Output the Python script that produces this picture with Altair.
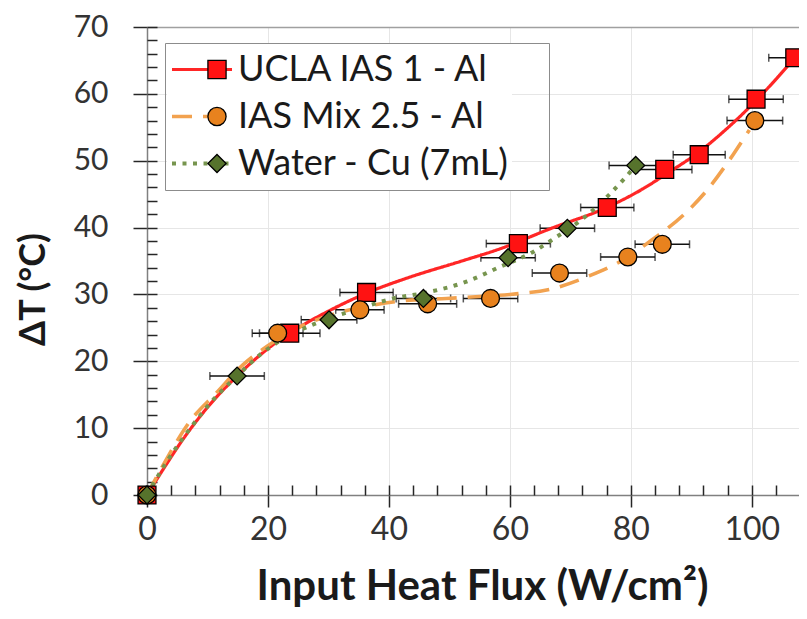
import altair as alt
import pandas as pd

series_names = ["UCLA IAS 1 - Al", "IAS Mix 2.5 - Al", "Water - Cu (7mL)"]
line_keys = ["L1", "L2", "L3"]
point_keys = ["P1", "P2", "P3"]
marker_fill = ["#FF1212", "#E8821E", "#56732C"]
marker_edge = ["#000000", "#000000", "#000000"]
line_colors = ["#FF2626", "#F2A24F", "#77954E"]
line_widths = [3.2, 4.0, 4.5]
dash_patterns = [[1, 0], [20, 11], [4, 6.5]]
marker_shapes = ["square", "circle", "diamond"]

# measured points (x = input heat flux W/cm2, y = delta T degC, err = x error)
ucla_x = [0, 23.6, 36.3, 61.4, 76.1, 85.6, 91.3, 100.7, 107.1]
ucla_y = [0, 24.2, 30.3, 37.6, 43.0, 48.7, 50.9, 59.2, 65.4]
ucla_err = [0, 5.0, 4.4, 5.3, 4.4, 4.5, 4.3, 4.5, 4.3]

mix_x = [0, 21.6, 35.2, 46.4, 56.8, 68.2, 79.5, 85.2, 100.5]
mix_y = [0, 24.2, 27.7, 28.6, 29.4, 33.2, 35.6, 37.5, 56.0]
mix_err = [0, 4.2, 4.0, 4.8, 4.5, 4.5, 4.5, 4.5, 4.6]

water_x = [0, 14.9, 30.1, 45.7, 59.7, 69.5, 80.8]
water_y = [0, 17.8, 26.2, 29.4, 35.5, 39.9, 49.3]
water_err = [0, 4.5, 4.6, 4.5, 4.5, 4.5, 4.4]

# trend curves
ucla_fit_x = [0, 3, 6, 10, 15, 20, 25, 30, 36.3, 43.5, 51.7, 58.3, 66.6, 76.0, 82.0, 86.0, 91.4, 95.5, 100.7, 104.0, 107.1]
ucla_fit_y = [0, 4.3, 8.4, 13.1, 17.9, 21.9, 25.0, 27.5, 30.2, 32.6, 34.9, 36.8, 39.8, 43.0, 45.8, 48.1, 51.4, 54.5, 59.0, 62.2, 65.4]

mix_fit_x = [0, 3, 7, 11.5, 15.9, 19.8, 25, 31.4, 37.4, 41.8, 49.5, 55, 60, 67.2, 73.2, 78.4, 83.7, 88.6, 92.5, 96.9, 99.6]
mix_fit_y = [0, 5.0, 10.9, 15.3, 19.5, 22.2, 25.0, 27.2, 28.4, 29.0, 29.4, 29.7, 30.0, 30.9, 32.8, 35.0, 38.3, 41.8, 45.5, 50.9, 54.6]

water_fit_x = [0, 3, 7, 11, 14.9, 19, 23, 28, 35.2, 40.7, 45.7, 52.8, 58.3, 63.9, 67.2, 72.7, 76.5, 79.3, 80.7]
water_fit_y = [0, 4.6, 9.8, 14.3, 17.8, 21.2, 23.6, 25.7, 27.9, 29.4, 30.2, 31.9, 34.1, 36.4, 38.3, 41.8, 45.0, 47.7, 49.2]

x_major = [0, 20, 40, 60, 80, 100]
x_minor = list(range(0, 108, 4))
y_major = list(range(0, 71, 10))
y_minor = list(range(0, 71, 2))

# ---- tables ----
pts_rows = []
for key, name, xs, ys, es in zip(point_keys, series_names, [ucla_x, mix_x, water_x],
                                 [ucla_y, mix_y, water_y], [ucla_err, mix_err, water_err]):
    for a, b, e in zip(xs, ys, es):
        pts_rows.append({"x": a, "y": b, "err": e, "series_pt": key, "series": name})
pts_df = pd.DataFrame(pts_rows)

line_rows = []
for key, name, xs, ys in zip(line_keys, series_names, [ucla_fit_x, mix_fit_x, water_fit_x],
                             [ucla_fit_y, mix_fit_y, water_fit_y]):
    for i, (a, b) in enumerate(zip(xs, ys)):
        line_rows.append({"x": a, "y": b, "series_ln": key, "series": name, "order": i})
line_df = pd.DataFrame(line_rows)


def label_expr(keys):
    expr = "'" + series_names[-1] + "'"
    for k, n in reversed(list(zip(keys[:-1], series_names[:-1]))):
        expr = "datum.label == '" + k + "' ? '" + n + "' : (" + expr + ")"
    return expr


FONT = "Lato"
xscale = alt.Scale(domain=[0, 107.8], nice=False, zero=False)
yscale = alt.Scale(domain=[0, 70], nice=False, zero=False)

x_main_axis = alt.Axis(orient="bottom", values=x_major, tickSize=12, tickWidth=1.5, tickColor="#262626",
                       domainColor="#808080", domainWidth=1.5, labelFont=FONT, labelFontSize=32,
                       labelColor="#333333", labelPadding=7, labelFlush=False, labelOverlap=False,
                       grid=True, gridColor="#E6E6E6", gridWidth=1,
                       titleFont=FONT, titleFontSize=42, titleFontWeight="bold", titleColor="#1A1A1A",
                       titleX=335, titleY=104, titleBaseline="alphabetic")
y_main_axis = alt.Axis(orient="left", values=y_major, tickSize=14, tickWidth=1.5, tickColor="#262626",
                       domainColor="#808080", domainWidth=1.5, labelFont=FONT, labelFontSize=30,
                       labelColor="#333333", labelPadding=25, labelFlush=False, labelOverlap=False,
                       grid=True, gridColor="#E6E6E6", gridWidth=1,
                       titleFont=FONT, titleFontSize=36, titleFontWeight="bold", titleColor="#1A1A1A",
                       titleX=-114, titleY=262, titleBaseline="middle", titleAlign="center", titleAngle=270)
x_minor_axis = alt.Axis(orient="bottom", values=x_minor, tickSize=10, tickWidth=1.5, tickColor="#262626",
                        offset=-10, domain=False, labels=False, grid=False, title=None)
y_minor_axis = alt.Axis(orient="left", values=y_minor, tickSize=10, tickWidth=1.5, tickColor="#262626",
                        offset=-10, domain=False, labels=False, grid=False, title=None)
x_top_axis = alt.Axis(orient="top", domain=True, domainColor="#A0A0A0", domainWidth=1.5, ticks=False,
                      labels=False, grid=False, title=None)

ROWH = 47
LEG_FS = 36
line_legend = alt.Legend(title=None, orient="none", legendX=20, legendY=16, symbolType="stroke",
                         symbolSize=3600, symbolStrokeWidth=3.5, clipHeight=ROWH, rowPadding=0, padding=3,
                         labelFont=FONT, labelFontSize=LEG_FS, labelColor="#1A1A1A", labelOffset=4,
                         labelLimit=500, labelExpr=label_expr(line_keys), fillColor="white", zindex=1)
marker_legend = alt.Legend(title=None, orient="none", legendX=18, legendY=16, symbolSize=330,
                           symbolStrokeColor="black", symbolStrokeWidth=1.3, symbolOffset=31,
                           clipHeight=ROWH, rowPadding=0, padding=3, labelFont=FONT, labelFontSize=LEG_FS,
                           labelOffset=311, labelLimit=500, labelExpr="''",
                           strokeColor="#8C8C8C", zindex=2)

err_base = alt.Chart(pts_df).transform_filter("datum.err > 0").transform_calculate(
    lo="datum.x - datum.err", hi="datum.x + datum.err")

rules = err_base.mark_rule(strokeWidth=1.5, color="#111111").encode(
    x=alt.X("lo:Q", scale=xscale, axis=x_main_axis, title="Input Heat Flux (W/cm²)"),
    x2="hi:Q",
    y=alt.Y("y:Q", scale=yscale, axis=y_main_axis, title="ΔT (°C)"),
)

caps = err_base.transform_fold(["lo", "hi"], as_=["end", "cx"]).mark_tick(
    orient="vertical", size=8, thickness=1.5, color="#111111").encode(
    x=alt.X("cx:Q", scale=xscale, axis=x_minor_axis),
    y=alt.Y("y:Q", scale=yscale, axis=y_minor_axis),
)

lines = alt.Chart(line_df).mark_line(interpolate="monotone").encode(
    x=alt.X("x:Q", scale=xscale, axis=x_top_axis),
    y=alt.Y("y:Q", scale=yscale, axis=None),
    order="order:Q",
    color=alt.Color("series_ln:N", scale=alt.Scale(range=line_colors), legend=line_legend),
    strokeDash=alt.StrokeDash("series_ln:N", scale=alt.Scale(range=dash_patterns), legend=line_legend),
    strokeWidth=alt.StrokeWidth("series_ln:O", scale=alt.Scale(range=line_widths), legend=None),
)

points = alt.Chart(pts_df).mark_point(filled=True, size=320, strokeWidth=1.3, opacity=1).encode(
    x=alt.X("x:Q", scale=xscale, axis=None),
    y=alt.Y("y:Q", scale=yscale, axis=None),
    shape=alt.Shape("series_pt:N", scale=alt.Scale(range=marker_shapes), legend=marker_legend),
    fill=alt.Fill("series_pt:N", scale=alt.Scale(range=marker_fill), legend=marker_legend),
    stroke=alt.Stroke("series_pt:N", scale=alt.Scale(range=marker_edge), legend=marker_legend),
)

chart = alt.layer(rules, caps, lines, points).resolve_axis(
    x="independent", y="independent"
).properties(
    width=652, height=468,
    autosize=alt.AutoSizeParams(type="none"),
    padding={"left": 139, "top": 19, "right": 0, "bottom": 116},
).configure(font=FONT).configure_view(stroke=None)

chart.save("out.html", embed_options={"renderer": "svg", "actions": False})
